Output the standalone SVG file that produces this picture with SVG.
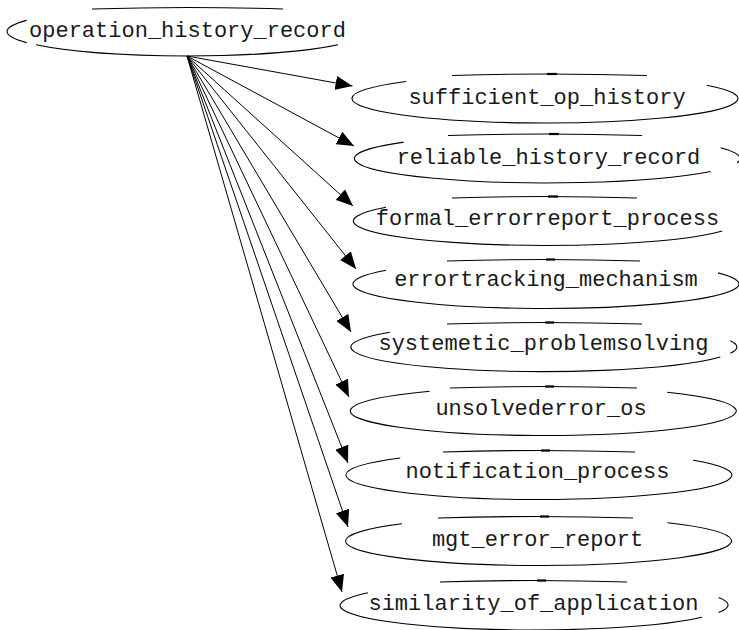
<svg xmlns="http://www.w3.org/2000/svg" width="739" height="630" viewBox="0 0 739 630">
  <style>
    .shape { fill: none; stroke: #000; stroke-width: 1.1; }
    .tick { fill: none; stroke: #000; stroke-width: 2.2; }
    .label { font-family: "Liberation Mono", "DejaVu Sans Mono", monospace; font-size: 22px; fill: #1a1a1a; text-anchor: middle; }
    .edge { fill: none; stroke: #000; stroke-width: 1; marker-end: url(#arrow); }
  </style>
  <defs>
    <marker id="arrow" markerUnits="userSpaceOnUse" markerWidth="17" markerHeight="14" refX="17" refY="7" orient="auto">
      <path d="M0,0 L17,7 L0,14 z" fill="#000"/>
    </marker>
  </defs>
  <rect width="739" height="630" fill="#fff"/>

  <!-- connectors: one fan of straight edges out of the root node -->
  <g id="connectors">
    <line class="edge" x1="187" y1="56" x2="352.5" y2="86"/>
    <line class="edge" x1="187" y1="56" x2="354" y2="146"/>
    <line class="edge" x1="187" y1="56" x2="353" y2="206"/>
    <line class="edge" x1="187" y1="56" x2="356" y2="269"/>
    <line class="edge" x1="187" y1="56" x2="351" y2="332"/>
    <line class="edge" x1="187" y1="56" x2="349" y2="397"/>
    <line class="edge" x1="187" y1="56" x2="348" y2="463"/>
    <line class="edge" x1="187" y1="56" x2="348" y2="527"/>
    <line class="edge" x1="187" y1="56" x2="342" y2="592"/>
  </g>

  <!-- root node -->
  <g id="operation_history_record">
    <path class="shape" d="M26.6,20.4 A180,24.5 0 0 0 26.6,42.6"/>
    <path class="shape" d="M36,44.8 A180,24.5 0 0 0 338,44.8"/>
    <path class="shape" d="M92,9 Q187,6 283,9"/>
    <text class="label" x="187.5" y="37">operation_history_record</text>
  </g>

  <!-- child nodes -->
  <g id="sufficient_op_history">
    <path class="shape" d="M406.2,81.5 A193,24.5 0 1 0 706.9,85.2"/>
    <path class="shape" d="M452,75.5 Q545,72.5 647,75.5"/>
    <path class="tick" d="M547,74 L557,74"/>
    <text class="label" x="547" y="104">sufficient_op_history</text>
  </g>

  <g id="reliable_history_record">
    <path class="shape" d="M403.6,142.1 A193,24.5 0 1 0 710.7,171.5"/>
    <path class="shape" d="M720.5,147.8 A193,24.5 0 0 1 737.1,162.8"/>
    <path class="shape" d="M448,135.5 Q547,132.5 642,135.5"/>
    <path class="tick" d="M549,134 L559,134"/>
    <text class="label" x="548.5" y="164">reliable_history_record</text>
  </g>

  <g id="formal_errorreport_process">
    <path class="shape" d="M386,207.3 A193,24.5 0 1 0 722.3,231"/>
    <path class="shape" d="M452,198 Q546,195 637,198"/>
    <path class="tick" d="M548,196.5 L558,196.5"/>
    <text class="label" x="547.5" y="225">formal_errorreport_process</text>
  </g>

  <g id="errortracking_mechanism">
    <path class="shape" d="M386,270.3 A193,24.5 0 1 0 718,272.9"/>
    <path class="shape" d="M447,261 Q546,258 640,261"/>
    <path class="tick" d="M546,259.5 L555,259.5"/>
    <text class="label" x="546" y="286">errortracking_mechanism</text>
  </g>

  <g id="systemetic_problemsolving">
    <path class="shape" d="M389.9,332.3 A193,24.5 0 1 0 720.3,357"/>
    <path class="shape" d="M730.4,340.7 A193,24.5 0 0 1 730.4,353.3"/>
    <path class="shape" d="M447,324 Q544,321 642,324"/>
    <path class="tick" d="M545,322.5 L554,322.5"/>
    <text class="label" x="543.5" y="350">systemetic_problemsolving</text>
  </g>

  <g id="unsolvederror_os">
    <path class="shape" d="M429.6,391.2 A193,24.5 0 1 0 667.1,392.2"/>
    <path class="shape" d="M450,388 Q543,385 637,388"/>
    <path class="tick" d="M545,386.5 L554,386.5"/>
    <text class="label" x="541" y="415">unsolvederror_os</text>
  </g>

  <g id="notification_process">
    <path class="shape" d="M400.2,458 A193,24.5 0 1 0 693.1,460.3"/>
    <path class="shape" d="M443,452 Q539,449 635,452"/>
    <path class="tick" d="M541,450.5 L550,450.5"/>
    <text class="label" x="537.5" y="478">notification_process</text>
  </g>

  <g id="mgt_error_report">
    <path class="shape" d="M402,523.7 A193,24.5 0 1 0 667.6,522.8"/>
    <path class="shape" d="M438,518 Q538.5,515 633,518"/>
    <path class="tick" d="M540,516.5 L549,516.5"/>
    <text class="label" x="537.5" y="546">mgt_error_report</text>
  </g>

  <g id="similarity_of_application">
    <path class="shape" d="M367.9,592.8 A193,24.5 0 1 0 702.1,617.3"/>
    <path class="shape" d="M718.6,597.4 A193,24.5 0 0 1 718.6,612.6"/>
    <path class="shape" d="M440,582 Q535,579 627,582"/>
    <path class="tick" d="M537,580.5 L546,580.5"/>
    <text class="label" x="533.5" y="610">similarity_of_application</text>
  </g>
</svg>
